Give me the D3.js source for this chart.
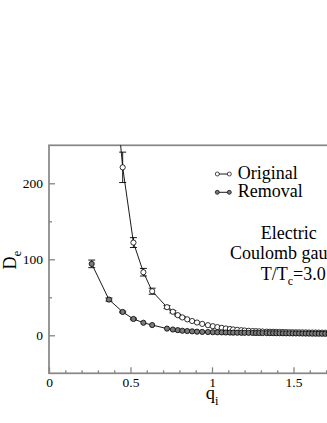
<!DOCTYPE html>
<html lang="en">
<head>
    <meta charset="UTF-8">
    <title>De vs qi</title>
    <script src="https://cdn.jsdelivr.net/npm/d3@7/dist/d3.min.js"></script>
    <style>
        html, body {
            margin: 0;
            padding: 0;
            width: 327px;
            height: 423px;
            overflow: hidden;
            background: #ffffff;
        }
        svg text {
            font-family: "Liberation Serif", "Times New Roman", serif;
            fill: #000;
        }
    </style>
</head>
<body>
</body>
<script>
    // momenta (shared by both series)
    const qValues = [0.262, 0.368, 0.452, 0.518, 0.579, 0.633, 0.724, 0.760, 0.790, 0.818,
        0.848, 0.878, 0.908, 0.940, 0.975, 1.005, 1.033, 1.060, 1.085, 1.110,
        1.130, 1.155, 1.180, 1.200, 1.225, 1.250, 1.270, 1.290, 1.310, 1.335,
        1.355, 1.375, 1.395, 1.415, 1.435, 1.455, 1.475, 1.495, 1.515, 1.535,
        1.555, 1.575, 1.595, 1.615, 1.635, 1.655, 1.675, 1.695, 1.715];

    // Original
    const originalD = [900, 415, 221, 122, 83, 58, 37, 31, 26.5, 23.5,
        21, 18.8, 16.8, 15, 13.3, 12, 10.8, 9.8, 9, 8.3,
        7.7, 7.2, 6.7, 6.3, 5.9, 5.6, 5.4, 5.2, 5.0, 4.8,
        4.7, 4.6, 4.5, 4.4, 4.3, 4.2, 4.1, 4.0, 3.95, 3.9,
        3.85, 3.8, 3.7, 3.65, 3.6, 3.55, 3.5, 3.45, 3.4];
    const originalErr = [0, 0, 20, 6.5, 5, 4, 2, 1.5, 1, 1];

    // Removal
    const removalD = [94, 47, 30.7, 21.5, 16.5, 13.5, 8.8, 7.6, 6.8, 6.0,
        5.6, 5.2, 4.8, 4.5, 4.3, 4.1, 3.9, 3.8, 3.7, 3.6,
        3.5, 3.4, 3.3, 3.25, 3.2, 3.1, 3.05, 3.0, 2.95, 2.9,
        2.85, 2.8, 2.75, 2.7, 2.65, 2.6, 2.55, 2.5, 2.45, 2.4,
        2.35, 2.3, 2.25, 2.2, 2.15, 2.1, 2.05, 2.0, 1.95];
    const removalErr = [5, 2, 1, 1];

    const xMajor = [0, 0.5, 1, 1.5];
    const yMajor = [0, 100, 200];

    const width = 327;
    const height = 423;

    let svg = d3.select('body')
        .append('svg')
        .attr('width', width)
        .attr('height', height);

    // 比例尺
    let x = d3.scaleLinear().domain([0, 2]).range([49, 375]);
    let y = d3.scaleLinear().domain([-50, 250]).range([373.3, 145.3]);

    const axisColor = '#858585';

    // 坐标框
    svg.append('rect')
        .attr('x', x(0))
        .attr('y', y(250))
        .attr('width', x(2) - x(0))
        .attr('height', y(-50) - y(250))
        .attr('fill', 'none')
        .attr('stroke', axisColor)
        .attr('stroke-width', 1.7);

    // 主刻度 & 次刻度
    let xAxis = svg.append('g')
        .attr('transform', `translate(0,${y(-50)})`)
        .call(d3.axisBottom(x).tickValues(xMajor).tickSize(-6).tickPadding(4)
            .tickFormat(d => d === 0 ? '0' : d3.format('')(d)));
    let xMinor = svg.append('g')
        .attr('transform', `translate(0,${y(-50)})`)
        .call(d3.axisBottom(x).tickValues(d3.range(1, 20).filter(i => i % 5 !== 0).map(i => i / 10))
            .tickSize(-3).tickFormat(''));

    let yAxis = svg.append('g')
        .attr('transform', `translate(${x(0)},0)`)
        .call(d3.axisLeft(y).tickValues(yMajor).tickSize(-6).tickPadding(6));
    let yMinor = svg.append('g')
        .attr('transform', `translate(${x(0)},0)`)
        .call(d3.axisLeft(y).tickValues([50, 150]).tickSize(-3).tickFormat(''));

    [xAxis, xMinor, yAxis, yMinor].forEach(g => {
        g.attr('font-family', '"Liberation Serif", serif').attr('font-size', 13);
        g.select('.domain').remove();
        g.selectAll('line').attr('stroke', axisColor).attr('stroke-width', 1.3);
        g.selectAll('text')
            .style('font-family', '"Liberation Serif", serif')
            .style('font-size', '13.5px')
            .attr('fill', '#000');
    });

    // 轴标题
    svg.append('text')
        .attr('transform', 'translate(16,260) rotate(-90)')
        .attr('text-anchor', 'middle')
        .style('font-size', '18px')
        .text('D')
        .append('tspan')
        .attr('dy', 5)
        .style('font-size', '13px')
        .text('e');

    svg.append('text')
        .attr('x', 212)
        .attr('y', 398.5)
        .attr('text-anchor', 'middle')
        .style('font-size', '18.5px')
        .text('q')
        .append('tspan')
        .attr('dy', 6)
        .style('font-size', '12.5px')
        .text('i');

    // 数据区域裁剪
    svg.append('clipPath')
        .attr('id', 'plot-clip')
        .append('rect')
        .attr('x', x(0))
        .attr('y', y(250))
        .attr('width', x(2) - x(0))
        .attr('height', y(-50) - y(250));

    let plot = svg.append('g').attr('clip-path', 'url(#plot-clip)');

    let line = d3.line().x(d => x(d.q)).y(d => y(d.v));

    const series = [
        {name: 'Original', values: originalD, err: originalErr, fill: '#ffffff'},
        {name: 'Removal', values: removalD, err: removalErr, fill: '#7a7a7a'}
    ];

    series.forEach(s => {
        let pts = qValues.map((q, i) => ({q: q, v: s.values[i], e: s.err[i] || 0}));

        plot.append('path')
            .datum(pts)
            .attr('d', line)
            .attr('fill', 'none')
            .attr('stroke', '#000')
            .attr('stroke-width', 0.9);

        // 误差棒
        let eb = plot.append('g')
            .selectAll('g')
            .data(pts.filter(d => d.e > 0))
            .enter().append('g')
            .attr('stroke', '#000')
            .attr('stroke-width', 0.9);
        eb.append('line')
            .attr('x1', d => x(d.q)).attr('x2', d => x(d.q))
            .attr('y1', d => y(d.v - d.e)).attr('y2', d => y(d.v + d.e));
        eb.append('line')
            .attr('x1', d => x(d.q) - 3.5).attr('x2', d => x(d.q) + 3.5)
            .attr('y1', d => y(d.v - d.e)).attr('y2', d => y(d.v - d.e));
        eb.append('line')
            .attr('x1', d => x(d.q) - 3.5).attr('x2', d => x(d.q) + 3.5)
            .attr('y1', d => y(d.v + d.e)).attr('y2', d => y(d.v + d.e));

        plot.append('g')
            .selectAll('circle')
            .data(pts)
            .enter().append('circle')
            .attr('cx', d => x(d.q))
            .attr('cy', d => y(d.v))
            .attr('r', 2.6)
            .attr('fill', s.fill)
            .attr('stroke', '#000')
            .attr('stroke-width', 0.8);
    });

    // 图例
    let legend = svg.append('g');
    series.forEach((s, i) => {
        let cy = 174 + i * 18.3;
        legend.append('line')
            .attr('x1', 217.3).attr('x2', 229.3)
            .attr('y1', cy).attr('y2', cy)
            .attr('stroke', '#000')
            .attr('stroke-width', 0.9);
        [217.3, 229.3].forEach(cx => {
            legend.append('circle')
                .attr('cx', cx).attr('cy', cy)
                .attr('r', 2)
                .attr('fill', s.fill)
                .attr('stroke', '#000')
                .attr('stroke-width', 0.7);
        });
        legend.append('text')
            .attr('x', 237.7)
            .attr('y', cy + 4.5)
            .style('font-size', '18px')
            .text(s.name);
    });

    // 注释文本
    svg.append('text')
        .attr('x', 260.7).attr('y', 239.3)
        .style('font-size', '18px')
        .text('Electric');
    svg.append('text')
        .attr('x', 230).attr('y', 259.3)
        .style('font-size', '18px')
        .text('Coulomb gauge');
    let tt = svg.append('text')
        .attr('x', 260.7).attr('y', 280)
        .style('font-size', '18px');
    tt.append('tspan').text('T/T');
    tt.append('tspan').attr('dy', 5).style('font-size', '12px').text('c');
    tt.append('tspan').attr('dy', -5).text('=3.0');
</script>
</html>
